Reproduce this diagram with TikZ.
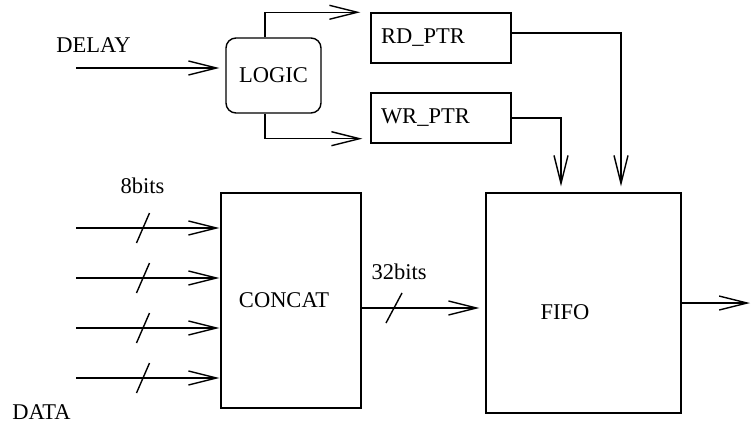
\documentclass[tikz,border=0pt]{standalone}
\usepackage{fontspec}
\setmainfont{Liberation Serif}
\newfontfamily\tmsfont{Liberation Serif}
\usetikzlibrary{arrows.meta}
\begin{document}
\begin{tikzpicture}[x=1pt,y=-1pt,line width=1.4pt,
  font=\tmsfont\fontsize{22.5}{26}\selectfont,
  arr/.style={-{Straight Barb[length=28pt,width=14pt,line width=1.4pt]}},
  blk/.style={draw,inner sep=0pt},
  lbl/.style={inner sep=0pt}]
\path[use as bounding box] (0,0) rectangle (751,425);
% blocks
\node[blk,rounded corners=10pt,minimum width=95pt,minimum height=75pt] (logic) at (273.5,75.5) {LOGIC};
\node[blk,minimum width=140pt,minimum height=50pt,text width=120pt,inner xsep=10pt,align=left] (rd) at (441,38) {RD\_PTR};
\node[blk,minimum width=140pt,minimum height=50pt,text width=120pt,inner xsep=10pt,align=left] (wr) at (441,118) {WR\_PTR};
\node[blk,minimum width=140pt,minimum height=215pt] (concat) at (291,300.5) {\hspace*{-14pt}CONCAT};
\node[blk,minimum width=195pt,minimum height=220pt,
  label={[lbl,xshift=-18.5pt,yshift=-9pt]center:FIFO}] (fifo) at (583.5,303) {};
% labels
\node[lbl] (delay) at (93.5,45) {DELAY};
\node[lbl] (bits8) at (142.5,186) {8bits};
\node[lbl] (data) at (41.5,412) {DATA};
\node[lbl] (bits32) at (399,272) {32bits};
% connectors
\coordinate (din) at (76,68);
\draw[arr] (din) -- ([xshift=-6pt]logic.west |- din);
\draw[arr] ([xshift=-8.5pt]logic.north) |- ([xshift=-10pt]rd.north west);
\draw[arr] ([xshift=-8.5pt]logic.south) |- ([xshift=-8pt,yshift=5pt]wr.south west);
\draw[arr] ([yshift=5pt]rd.east) -| ([xshift=37.5pt,yshift=6pt]fifo.north);
\draw[arr] (wr.east) -| ([xshift=-22.5pt,yshift=6pt]fifo.north);
\coordinate (out) at (750,303);
\draw[arr] (fifo.east) -- (out);
\foreach \y [count=\i] in {228,278,328,378}{
  \coordinate (in\i) at (76,\y);
  \draw[arr] (in\i) -- ([xshift=-1pt]concat.west |- in\i);
  \draw (136.5,\y+15) -- (149.5,\y-15);
}
\coordinate (c32) at ([yshift=-7.5pt]concat.east);
\draw[arr,shorten >=6pt] (c32) -- (c32 -| fifo.west);
\draw (386,323) -- (402,293);
\end{tikzpicture}
\end{document}
